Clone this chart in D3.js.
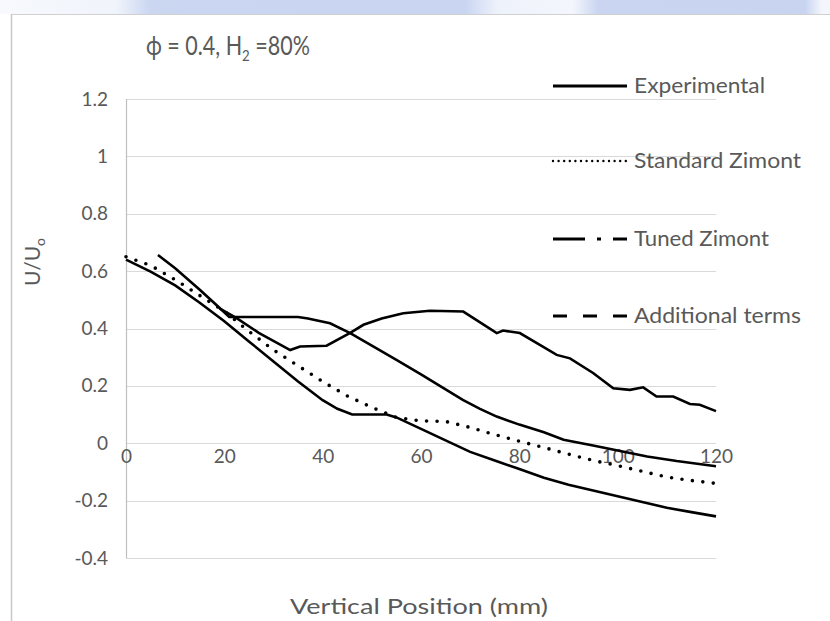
<!DOCTYPE html>
<html>
<head>
<meta charset="utf-8">
<script src="https://cdn.jsdelivr.net/npm/d3@7"></script>
<style>
  html, body { margin: 0; padding: 0; background: #fff; }
  svg { display: block; }
  text { font-family: Lato, "Open Sans", sans-serif; fill: #595959; }
</style>
</head>
<body>
<svg id="chart" width="830" height="621"></svg>
<script>
// Normalised velocity U/U0 along the vertical position (mm)
const seriesNames = ["Experimental", "Standard Zimont", "Tuned Zimont", "Additional terms"];

const experimentalX = [19, 22.5, 27, 33.4, 35.4, 40.8, 45.6, 48.3, 52, 56.4, 61.8, 68.6, 75.4, 76.7, 80.1, 84, 87.6, 90.3, 95, 99.1, 102.5, 105.2, 107.9, 111.3, 114.7, 116.7, 120];
const experimentalY = [0.47, 0.436, 0.385, 0.325, 0.337, 0.34, 0.385, 0.413, 0.435, 0.453, 0.462, 0.459, 0.384, 0.393, 0.384, 0.345, 0.308, 0.296, 0.245, 0.192, 0.186, 0.195, 0.163, 0.163, 0.137, 0.134, 0.112];

const standardX = [0, 5, 10, 15, 20, 25, 30, 35, 40, 45, 50, 55, 60, 65, 70, 75, 80, 85, 90, 95, 100, 105, 110, 115, 120];
const standardY = [0.65, 0.62, 0.57, 0.515, 0.46, 0.39, 0.325, 0.27, 0.215, 0.165, 0.125, 0.09, 0.078, 0.076, 0.055, 0.03, 0.007, -0.015, -0.038, -0.06, -0.078, -0.098, -0.118, -0.13, -0.14];

const tunedX = [6.5, 10, 15, 18.5, 21, 25, 30, 35, 37, 41.5, 45.6, 50, 55, 60, 64, 68.5, 72, 75.4, 80, 85, 89, 95, 100, 106, 112, 120];
const tunedY = [0.656, 0.61, 0.535, 0.48, 0.44, 0.44, 0.44, 0.44, 0.435, 0.418, 0.384, 0.34, 0.291, 0.24, 0.198, 0.151, 0.12, 0.093, 0.065, 0.038, 0.012, -0.008, -0.025, -0.046, -0.062, -0.08];

const additionalX = [0, 5, 10, 15, 20, 25, 30, 35, 40, 43, 46, 50, 53, 55, 60, 65, 70, 75, 80, 85, 90, 95, 100, 105, 110, 115, 120];
const additionalY = [0.64, 0.598, 0.55, 0.49, 0.425, 0.355, 0.285, 0.215, 0.15, 0.12, 0.1, 0.1, 0.1, 0.09, 0.05, 0.01, -0.03, -0.06, -0.09, -0.12, -0.145, -0.165, -0.185, -0.205, -0.225, -0.24, -0.255];

const xTicks = [0, 20, 40, 60, 80, 100, 120];
const yTicks = [-0.4, -0.2, 0, 0.2, 0.4, 0.6, 0.8, 1, 1.2];
const yTickLabels = ["-0.4", "-0.2", "0", "0.2", "0.4", "0.6", "0.8", "1", "1.2"];

const svg = d3.select("#chart");

// faint banner strip above the chart frame
const grad = svg.append("defs").append("linearGradient").attr("id", "band");
[[0, "#f7f9fd"], [0.14, "#f0f4fb"], [0.18, "#cbd7f1"], [0.56, "#c9d5f1"], [0.6, "#eef2fb"], [0.69, "#f3f6fc"], [0.72, "#cad6f1"], [0.97, "#c8d4f0"], [0.99, "#f4f6fc"]]
  .forEach(([o, c]) => grad.append("stop").attr("offset", o).attr("stop-color", c));
svg.append("rect").attr("x", 0).attr("y", 0).attr("width", 830).attr("height", 14).attr("fill", "url(#band)");

// chart frame
svg.append("line").attr("x1", 11).attr("x2", 830).attr("y1", 14.5).attr("y2", 14.5).attr("stroke", "#d0d0d0");
svg.append("line").attr("x1", 11.5).attr("x2", 11.5).attr("y1", 14).attr("y2", 621).attr("stroke", "#c8c8c8").attr("stroke-width", 1.5);

const x = d3.scaleLinear().domain([0, 120]).range([126, 716]);
const y = d3.scaleLinear().domain([-0.4, 1.2]).range([558, 99]);

// horizontal gridlines
svg.append("g")
  .selectAll("line").data(yTicks).join("line")
  .attr("x1", x(0)).attr("x2", x(120))
  .attr("y1", d => Math.round(y(d)) + 0.5).attr("y2", d => Math.round(y(d)) + 0.5)
  .attr("stroke", "#d9d9d9").attr("stroke-width", 1.2);

// vertical axis line
svg.append("line").attr("x1", x(0) + 0.5).attr("x2", x(0) + 0.5).attr("y1", y(1.2)).attr("y2", y(-0.4))
  .attr("stroke", "#bfbfbf").attr("stroke-width", 1.2);

// y tick labels
const yAxis = d3.axisLeft(y).tickValues(yTicks).tickSize(0).tickPadding(18)
  .tickFormat((d, i) => yTickLabels[i]);
const gy = svg.append("g").attr("transform", `translate(${x(0)},0)`).call(yAxis);
gy.select(".domain").remove();
gy.selectAll("text").attr("font-size", 19).attr("fill", "#595959").attr("font-family", "Lato, sans-serif");

// x tick labels, placed along the zero line
const xAxis = d3.axisBottom(x).tickValues(xTicks).tickSize(0).tickPadding(6);
const gx = svg.append("g").attr("transform", `translate(0,${y(0)})`).call(xAxis);
gx.select(".domain").remove();
gx.selectAll("text").attr("font-size", 19).attr("fill", "#595959").attr("font-family", "Lato, sans-serif");

const line = d3.line().x(d => x(d[0])).y(d => y(d[1]));
const zip = (xs, ys) => xs.map((v, i) => [v, ys[i]]);

const plot = svg.append("g").attr("fill", "none").attr("stroke", "#000");
plot.append("path").datum(zip(additionalX, additionalY)).attr("d", line).attr("stroke-width", 2.6);
plot.append("path").datum(zip(tunedX, tunedY)).attr("d", line).attr("stroke-width", 2.6);
plot.append("path").datum(zip(experimentalX, experimentalY)).attr("d", line).attr("stroke-width", 2.6);
plot.append("path").datum(zip(standardX, standardY)).attr("d", line)
  .attr("stroke-width", 3.6).attr("stroke-linecap", "round").attr("stroke-dasharray", "0,10.5");

// legend
const legendY = [86, 161, 239, 316];
const legendStyle = [
  { dash: null, w: 3.2, cap: "butt" },
  { dash: "0,5.6", w: 2.4, cap: "round" },
  { dash: "32,12,4,12,14", w: 3.2, cap: "butt" },
  { dash: "14,16", w: 3.2, cap: "butt" }
];
const legendWidths = [131, 167, 135, 167];
const lg = svg.append("g");
seriesNames.forEach((name, i) => {
  lg.append("line").attr("x1", 553).attr("x2", 627).attr("y1", legendY[i]).attr("y2", legendY[i])
    .attr("stroke", "#000").attr("stroke-width", legendStyle[i].w)
    .attr("stroke-linecap", legendStyle[i].cap)
    .attr("stroke-dasharray", legendStyle[i].dash);
  lg.append("text").attr("x", 634).attr("y", legendY[i] + 7)
    .attr("font-size", 21)
    .attr("textLength", legendWidths[i]).attr("lengthAdjust", "spacingAndGlyphs")
    .text(name);
});

// title, condensed horizontally to its set width
const titleG = svg.append("g");
const title = titleG.append("text").attr("x", 0).attr("y", 0).attr("font-size", 26);
title.append("tspan").text("ϕ = 0.4, H");
title.append("tspan").attr("font-size", 16).attr("dy", 6).text("2");
title.append("tspan").attr("dy", -6).text(" =80%");
const titleW = title.node().getComputedTextLength() || 200;
titleG.attr("transform", `translate(146,55) scale(${164 / titleW},1)`);

// axis titles
const yt = svg.append("text").attr("transform", "translate(40,262) rotate(-90)")
  .attr("text-anchor", "middle").attr("font-size", 21);
yt.append("tspan").text("U/U");
yt.append("tspan").attr("font-size", 14).attr("dy", 5).text("o");

svg.append("text").attr("x", 419).attr("y", 614).attr("text-anchor", "middle").attr("font-size", 21)
  .attr("textLength", 258).attr("lengthAdjust", "spacingAndGlyphs")
  .text("Vertical  Position (mm)");
</script>
</body>
</html>
